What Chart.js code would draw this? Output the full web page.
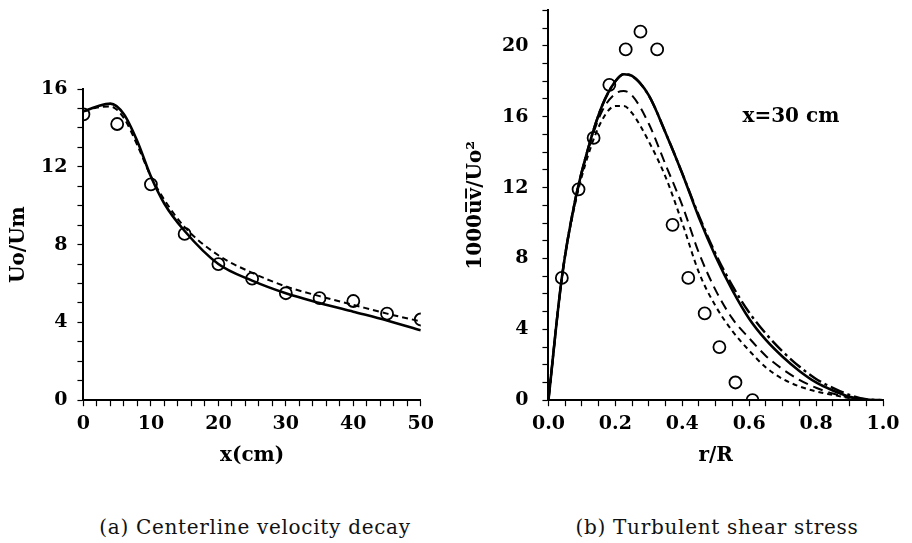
<!DOCTYPE html>
<html>
<head>
<meta charset="utf-8">
<script src="https://cdn.jsdelivr.net/npm/chart.js@4.4.1/dist/chart.umd.min.js"></script>
<style>
  body { margin: 0; background: #fff; width: 912px; height: 543px; position: relative; overflow: hidden; }
  .box { position: absolute; }
  #left { left: 0; top: 0; width: 440px; height: 470px; }
  #right { left: 458px; top: -15px; width: 454px; height: 487px; }
  .cap { position: absolute; top: 515px; line-height: 24px; font-family: "DejaVu Serif", serif; font-size: 20px; letter-spacing: 0.7px; color: #111; text-align: center; width: 400px; }
</style>
</head>
<body>
<div class="box" id="left"><canvas id="decay"></canvas></div>
<div class="box" id="right"><canvas id="shear"></canvas></div>
<div class="cap" style="left:55px">(a) Centerline velocity decay</div>
<div class="cap" style="left:517px">(b) Turbulent shear stress</div>
<script>
// (a) centerline velocity decay
const decayX = [0, 2, 4, 6, 8, 10, 12, 15, 20, 25, 30, 35, 40, 45, 50];
const decaySolid = [14.85, 15.1, 15.25, 14.7, 13.3, 11.5, 10.1, 8.7, 7.0, 6.15, 5.5, 5.0, 4.55, 4.1, 3.6];
const decayDashed = [14.85, 15.05, 15.1, 14.5, 13.1, 11.5, 10.3, 8.9, 7.45, 6.55, 5.85, 5.35, 4.9, 4.45, 4.05];
const decayExpX = [0, 5, 10, 15, 20, 25, 30, 35, 40, 45, 50];
const decayExp = [14.7, 14.2, 11.1, 8.55, 7.0, 6.25, 5.5, 5.25, 5.1, 4.45, 4.15];

// (b) turbulent shear stress at x = 30 cm
const shearR = [0, 0.04, 0.08, 0.12, 0.16, 0.2, 0.225, 0.25, 0.3, 0.35, 0.4, 0.45, 0.5, 0.55, 0.6, 0.65, 0.7, 0.75, 0.8, 0.85, 0.9, 0.95, 1.0];
const shearSolid = [0, 6.9, 11.3, 14.3, 16.6, 18.0, 18.4, 18.3, 17.2, 15.1, 12.8, 10.3, 8.1, 6.2, 4.6, 3.4, 2.45, 1.65, 1.0, 0.55, 0.2, 0.03, 0];
const shearDashDot = [0, 6.9, 11.3, 14.3, 16.6, 18.0, 18.4, 18.3, 17.2, 15.1, 12.8, 10.4, 8.25, 6.45, 4.95, 3.75, 2.75, 1.9, 1.2, 0.7, 0.3, 0.06, 0];
const shearLong = [0, 6.9, 11.2, 14.2, 16.3, 17.3, 17.45, 17.2, 15.6, 13.3, 11.0, 8.3, 6.2, 4.6, 3.5, 2.5, 1.75, 1.15, 0.7, 0.38, 0.15, 0.03, 0];
const shearShort = [0, 6.9, 11.1, 13.9, 15.8, 16.6, 16.6, 16.2, 14.6, 12.6, 10.0, 7.2, 5.3, 3.9, 2.8, 1.85, 1.2, 0.78, 0.5, 0.3, 0.12, 0.02, 0];
const shearExpR = [0.04, 0.09, 0.135, 0.182, 0.231, 0.275, 0.325, 0.371, 0.418, 0.467, 0.511, 0.559, 0.61];
const shearExp = [6.9, 11.9, 14.8, 17.8, 19.8, 20.8, 19.8, 9.9, 6.9, 4.9, 3.0, 1.0, 0];

const pts = (xs, ys) => xs.map((x, i) => ({ x: x, y: ys[i] }));
const tickFont = { family: "DejaVu Serif", size: 19, weight: "bold" };

function lineSet(xs, ys, dash, width) {
  return {
    data: pts(xs, ys),
    borderColor: "#000",
    borderWidth: width,
    borderDash: dash,
    pointRadius: 0,
    fill: false,
    cubicInterpolationMode: "monotone",
  };
}

function expSet(xs, ys) {
  return {
    data: pts(xs, ys),
    showLine: false,
    pointRadius: 6,
    pointBorderWidth: 1.8,
    pointBorderColor: "#000",
    pointBackgroundColor: "rgba(255,255,255,0)",
  };
}

function axis(min, max, step, labelEvery, digits, title, pad, titlePad) {
  return {
    type: "linear",
    min: min,
    max: max,
    border: { color: "#000", width: 2 },
    grid: { drawOnChartArea: false, drawTicks: true, tickLength: 6, color: "#000", tickWidth: 1.2 },
    ticks: {
      stepSize: step,
      autoSkip: false,
      maxRotation: 0,
      color: "#000",
      font: tickFont,
      padding: pad,
      callback: (v) => {
        const k = v / labelEvery;
        return Math.abs(k - Math.round(k)) < 1e-6 ? Number(v).toFixed(digits) : "";
      },
    },
    title: { display: true, text: title, color: "#000", font: { family: "DejaVu Serif", size: 20, weight: "bold" }, padding: titlePad },
  };
}

new Chart(document.getElementById("decay"), {
  type: "line",
  data: {
    datasets: [
      lineSet(decayX, decaySolid, [], 2.6),
      lineSet(decayX, decayDashed, [6, 4], 2),
      expSet(decayExpX, decayExp),
    ],
  },
  options: {
    responsive: true,
    maintainAspectRatio: false,
    animation: false,
    layout: { padding: { top: 89, right: 17, left: 7, bottom: 2 } },
    plugins: { legend: { display: false }, tooltip: { enabled: false } },
    scales: {
      x: axis(0, 50, 2, 10, 0, "x(cm)", 6, { top: 3, bottom: 0 }),
      y: axis(0, 16, 1, 4, 0, "Uo/Um", 10, 0),
    },
  },
});

const label30 = {
  id: "label30",
  afterDraw(chart) {
    const ctx = chart.ctx;
    ctx.save();
    ctx.font = "bold 20px 'DejaVu Serif'";
    ctx.fillStyle = "#000";
    ctx.textBaseline = "middle";
    ctx.fillText("x=30 cm", chart.scales.x.getPixelForValue(0.58), chart.scales.y.getPixelForValue(16));
    ctx.restore();
  },
};

new Chart(document.getElementById("shear"), {
  type: "line",
  data: {
    datasets: [
      lineSet(shearR, shearSolid, [], 2.6),
      lineSet(shearR, shearDashDot, [14, 4, 3, 4], 2.4),
      lineSet(shearR, shearLong, [10, 6], 2),
      lineSet(shearR, shearShort, [5, 4], 2),
      expSet(shearExpR, shearExp),
    ],
  },
  options: {
    responsive: true,
    maintainAspectRatio: false,
    animation: false,
    layout: { padding: { top: 4, right: 29, left: 6, bottom: 4 } },
    plugins: { legend: { display: false }, tooltip: { enabled: false } },
    scales: {
      x: axis(0, 1, 0.05, 0.2, 1, "r/R", 6, { top: 3, bottom: 0 }),
      y: axis(0, 22, 1, 4, 0, "1000u\u0305v\u0305/Uo\u00b2", 14, 0),
    },
  },
  plugins: [label30],
});
</script>
</body>
</html>
